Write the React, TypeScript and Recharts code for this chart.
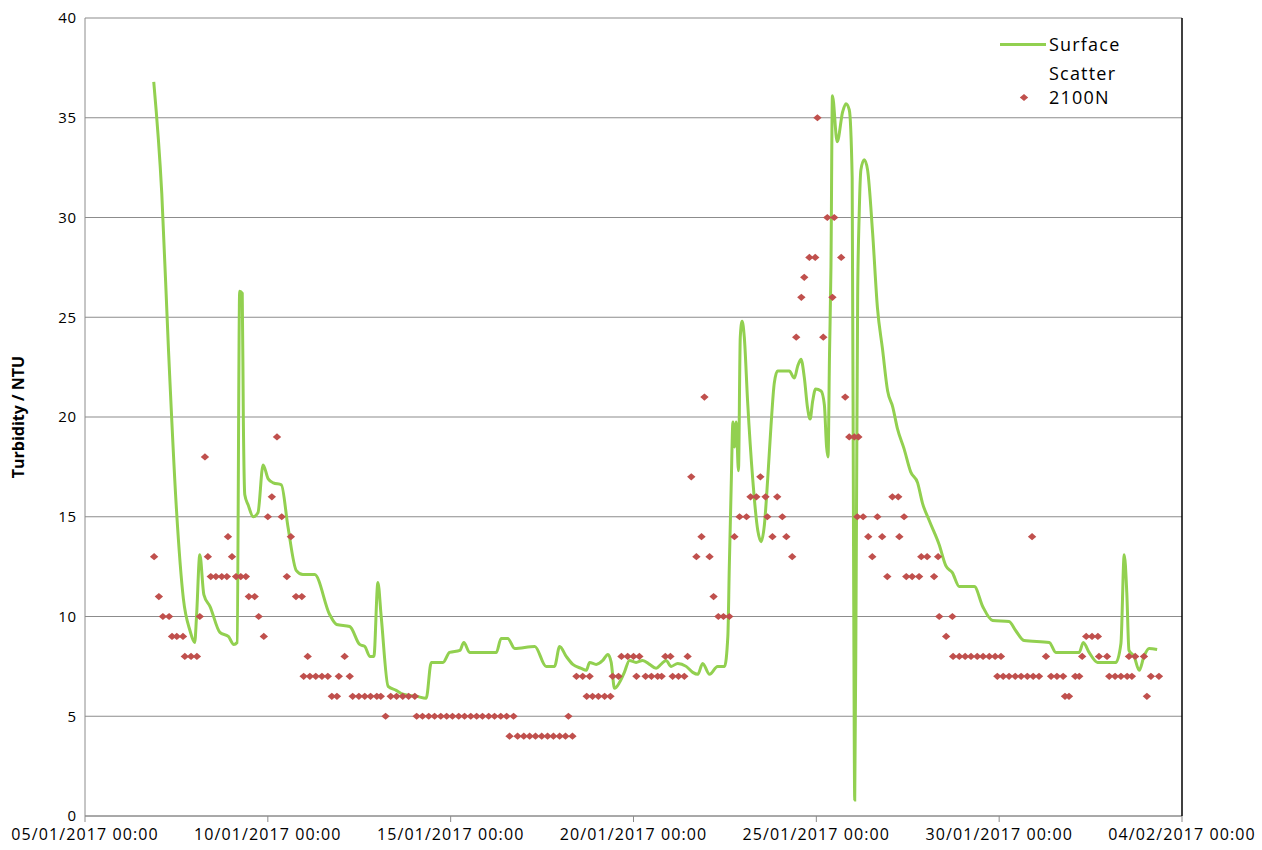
import React from 'react';
import { ComposedChart, Line, Scatter, XAxis, YAxis, CartesianGrid, Legend } from 'recharts';

// x values are days since 05/01/2017 00:00
const xTickDays = [0, 5, 10, 15, 20, 25, 30];
const xTickLabels = [
  '05/01/2017 00:00',
  '10/01/2017 00:00',
  '15/01/2017 00:00',
  '20/01/2017 00:00',
  '25/01/2017 00:00',
  '30/01/2017 00:00',
  '04/02/2017 00:00',
];
const yTicks = [0, 5, 10, 15, 20, 25, 30, 35, 40];

// Surface scatter turbidity (NTU), [day, value]
const surfacePoints: [number, number][] = [
  [1.88, 36.8], [2.1, 31.2], [2.28, 23.5], [2.5, 15.4], [2.69, 10.9], [2.87, 9.3], [3.0, 8.7],
  [3.05, 10.0], [3.14, 13.1], [3.25, 11.1], [3.42, 10.5], [3.69, 9.2], [3.92, 9.0], [4.07, 8.6],
  [4.16, 8.7], [4.23, 26.3], [4.3, 26.2], [4.33, 19.9], [4.37, 16.1], [4.46, 15.6], [4.6, 15.0],
  [4.73, 15.2], [4.87, 17.6], [5.01, 16.9], [5.15, 16.7], [5.37, 16.6], [5.55, 14.5], [5.78, 12.3],
  [5.96, 12.1], [6.28, 12.1], [6.69, 10.1], [6.88, 9.6], [7.24, 9.5], [7.51, 8.6], [7.65, 8.5],
  [7.79, 8.0], [7.9, 8.0], [8.01, 11.7], [8.1, 10.0], [8.29, 6.5], [8.51, 6.3], [8.7, 6.1],
  [9.06, 6.0], [9.33, 5.9], [9.47, 7.7], [9.79, 7.7], [9.97, 8.2], [10.25, 8.3], [10.36, 8.7],
  [10.52, 8.2], [11.25, 8.2], [11.38, 8.9], [11.56, 8.9], [11.75, 8.4], [12.3, 8.5], [12.61, 7.5],
  [12.84, 7.5], [12.98, 8.5], [13.16, 8.0], [13.34, 7.6], [13.57, 7.4], [13.71, 7.3], [13.8, 7.7],
  [13.98, 7.6], [14.16, 7.8], [14.3, 8.1], [14.39, 7.7], [14.48, 6.4], [14.62, 6.7], [14.75, 7.2],
  [14.89, 7.8], [15.07, 7.7], [15.25, 7.8], [15.44, 7.6], [15.62, 7.4], [15.75, 7.6], [15.89, 7.8],
  [16.03, 7.5], [16.21, 7.65], [16.44, 7.5], [16.62, 7.2], [16.76, 7.1], [16.89, 7.65], [17.08, 7.1],
  [17.3, 7.5], [17.49, 7.5], [17.58, 9.0], [17.62, 12.5], [17.67, 16.4], [17.72, 19.75], [17.76, 18.5],
  [17.81, 19.75], [17.87, 17.3], [17.92, 24.0], [17.97, 24.8], [18.03, 24.0], [18.12, 20.8],
  [18.26, 16.9], [18.4, 14.3], [18.49, 13.75], [18.58, 14.6], [18.67, 16.9], [18.76, 19.55],
  [18.85, 21.7], [18.94, 22.3], [19.26, 22.3], [19.4, 21.95], [19.49, 22.55], [19.58, 22.9],
  [19.67, 22.0], [19.76, 20.45], [19.83, 19.9], [19.9, 20.8], [19.98, 21.4], [20.13, 21.3],
  [20.22, 20.6], [20.28, 18.5], [20.32, 18.0], [20.36, 23.1], [20.4, 27.5], [20.44, 36.1],
  [20.57, 33.8], [20.72, 35.3], [20.81, 35.7], [20.9, 35.4], [20.98, 32.0], [21.02, 12.0],
  [21.05, 0.8], [21.09, 12.0], [21.13, 26.0], [21.17, 30.0], [21.22, 32.4], [21.31, 32.9],
  [21.4, 32.4], [21.54, 29.2], [21.67, 25.5], [21.81, 23.4], [21.95, 21.3], [22.09, 20.5],
  [22.22, 19.4], [22.4, 18.4], [22.58, 17.25], [22.77, 16.7], [22.9, 15.7], [23.09, 14.8],
  [23.36, 13.6], [23.54, 12.55], [23.72, 12.2], [23.91, 11.5], [24.32, 11.5], [24.55, 10.5],
  [24.82, 9.8], [25.27, 9.75], [25.45, 9.3], [25.68, 8.8], [26.37, 8.7], [26.55, 8.2], [27.19, 8.2],
  [27.3, 8.7], [27.46, 8.2], [27.69, 7.7], [28.19, 7.7], [28.33, 8.65], [28.42, 13.1], [28.49, 11.2],
  [28.55, 8.3], [28.69, 8.0], [28.83, 7.3], [28.96, 8.0], [29.1, 8.4], [29.32, 8.35],
];

// 2100N bench turbidimeter (NTU), [day, value]
const points2100N: [number, number][] = [
  [1.89, 13], [2.02, 11], [2.13, 10], [2.3, 10], [2.38, 9], [2.51, 9], [2.68, 9], [2.73, 8], [2.9, 8],
  [3.06, 8], [3.14, 10], [3.28, 18], [3.36, 13], [3.44, 12], [3.58, 12], [3.74, 12], [3.88, 12],
  [3.91, 14], [4.02, 13], [4.13, 12], [4.26, 12], [4.4, 12], [4.48, 11], [4.64, 11], [4.75, 10],
  [4.89, 9], [5.0, 15], [5.11, 16], [5.25, 19], [5.38, 15], [5.52, 12], [5.63, 14], [5.77, 11],
  [5.93, 11], [6.09, 8], [5.98, 7], [6.15, 7], [6.31, 7], [6.48, 7], [6.64, 7], [6.75, 6], [6.89, 6],
  [6.94, 7], [7.1, 8], [7.24, 7], [7.32, 6], [7.49, 6], [7.65, 6], [7.81, 6], [7.98, 6], [8.09, 6],
  [8.22, 5], [8.36, 6], [8.52, 6], [8.69, 6], [8.85, 6], [9.02, 6], [9.07, 5], [9.23, 5], [9.4, 5],
  [9.56, 5], [9.73, 5], [9.89, 5], [10.05, 5], [10.22, 5], [10.38, 5], [10.55, 5], [10.71, 5],
  [10.87, 5], [11.04, 5], [11.2, 5], [11.37, 5], [11.53, 5], [11.72, 5], [11.61, 4], [11.83, 4],
  [12.0, 4], [12.16, 4], [12.32, 4], [12.49, 4], [12.65, 4], [12.81, 4], [12.98, 4], [13.14, 4],
  [13.33, 4], [13.22, 5], [13.44, 7], [13.61, 7], [13.8, 7], [13.72, 6], [13.88, 6], [14.04, 6],
  [14.21, 6], [14.37, 6], [14.43, 7], [14.59, 7], [14.67, 8], [14.84, 8], [15.0, 8], [15.16, 8],
  [15.08, 7], [15.33, 7], [15.49, 7], [15.66, 7], [15.77, 7], [15.87, 8], [16.01, 8], [16.07, 7],
  [16.23, 7], [16.39, 7], [16.48, 8], [16.58, 17], [16.72, 13], [16.86, 14], [16.94, 21], [17.08, 13],
  [17.19, 11], [17.32, 10], [17.46, 10], [17.62, 10], [17.76, 14], [17.9, 15], [18.09, 15], [18.2, 16],
  [18.36, 16], [18.47, 17], [18.61, 16], [18.66, 15], [18.8, 14], [18.93, 16], [19.07, 15], [19.18, 14],
  [19.34, 13], [19.45, 24], [19.59, 26], [19.67, 27], [19.81, 28], [19.97, 28], [20.03, 35], [20.19, 24],
  [20.3, 30], [20.49, 30], [20.44, 26], [20.68, 28], [20.79, 21], [20.9, 19], [21.04, 19], [21.15, 19],
  [21.12, 15], [21.28, 15], [21.67, 15], [22.4, 15], [21.42, 14], [21.8, 14], [22.27, 14], [21.53, 13],
  [21.94, 12], [22.08, 16], [22.24, 16], [22.46, 12], [22.62, 12], [22.81, 12], [22.87, 13], [23.03, 13],
  [23.33, 13], [23.22, 12], [23.36, 10], [23.72, 10], [23.55, 9], [23.74, 8], [23.91, 8], [24.07, 8],
  [24.23, 8], [24.4, 8], [24.56, 8], [24.73, 8], [24.89, 8], [25.05, 8], [24.95, 7], [25.11, 7],
  [25.27, 7], [25.44, 7], [25.6, 7], [25.77, 7], [25.93, 7], [26.09, 7], [26.42, 7], [26.58, 7],
  [26.75, 7], [27.08, 7], [27.19, 7], [26.28, 8], [25.9, 14], [26.8, 6], [26.91, 6], [27.27, 8],
  [27.38, 9], [27.54, 9], [27.7, 9], [27.73, 8], [27.95, 8], [28.01, 7], [28.17, 7], [28.33, 7],
  [28.5, 7], [28.63, 7], [28.55, 8], [28.72, 8], [28.96, 8], [29.04, 6], [29.15, 7], [29.37, 7],
];

const GREEN = '#92D050';
const RED = '#C0504D';
const GRID = '#8c8c8c';
const FONT = '"Open Sans", sans-serif';

const surfaceData = surfacePoints.map(([day, ntu]) => ({ day, ntu }));
const data2100N = points2100N.map(([day, ntu]) => ({ day, ntu }));

const Diamond = (props: any) => {
  const { cx, cy } = props;
  if (cx == null || cy == null) return null;
  return <path d={`M${cx},${cy - 3.6}L${cx + 4.2},${cy}L${cx},${cy + 3.6}L${cx - 4.2},${cy}Z`} fill={RED} />;
};

const YTitle = (props: any) => {
  const vb = props.viewBox || { x: 0, y: 0, height: 0 };
  const x = vb.x + 18;
  const y = vb.y + vb.height / 2;
  return (
    <text x={x} y={y} transform={`rotate(-90 ${x} ${y})`} textAnchor="middle" dominantBaseline="central"
      fontFamily={FONT} fontSize={16} fontWeight="bold" fill="#000">
      Turbidity / NTU
    </text>
  );
};

const LegendBox = () => (
  <div style={{ fontFamily: FONT, fontSize: 18, color: '#000', letterSpacing: 1.2 }}>
    <div style={{ display: 'flex', alignItems: 'center', height: 28 }}>
      <span style={{ display: 'inline-block', width: 46, height: 3, background: GREEN, marginRight: 3 }} />
      <span>Surface</span>
    </div>
    <div style={{ display: 'flex', alignItems: 'flex-end', lineHeight: '24px', marginTop: 3 }}>
      <span style={{ display: 'inline-block', width: 49, height: 24, position: 'relative' }}>
        <svg width={49} height={24} style={{ position: 'absolute', left: 0, top: 0 }}>
          <path d="M24,8.9L28.2,12.5L24,16.1L19.8,12.5Z" fill={RED} />
        </svg>
      </span>
      <span>Scatter<br />2100N</span>
    </div>
  </div>
);

export default function App() {
  return (
    <div style={{ position: 'absolute', left: 0, top: 0, width: 1262, height: 850, background: '#fff' }}>
      <ComposedChart width={1262} height={850} margin={{ top: 18, right: 0, bottom: 0, left: 0 }}>
        <CartesianGrid vertical={false} stroke={GRID} strokeWidth={1.2} />
        <XAxis
          type="number"
          dataKey="day"
          domain={[0, 30]}
          ticks={xTickDays}
          interval={0}
          allowDataOverflow
          height={34}
          stroke={GRID}
          tickMargin={7}
          tickFormatter={(v: number) => xTickLabels[xTickDays.indexOf(v)]}
          tick={{ fill: '#000', fontSize: 16, fontFamily: FONT, letterSpacing: 1.1 }}
        />
        <YAxis
          type="number"
          domain={[0, 40]}
          ticks={yTicks}
          interval={0}
          width={85}
          stroke={GRID}
          tickLine={false}
          tick={{ fill: '#000', fontSize: 15, fontFamily: FONT, letterSpacing: 0.8 }}
          label={<YTitle />}
        />
        <YAxis
          yAxisId="r"
          orientation="right"
          type="number"
          domain={[0, 40]}
          width={80}
          tick={false}
          tickLine={false}
          axisLine={{ stroke: '#000', strokeWidth: 1.5 }}
        />
        <Line
          data={surfaceData}
          dataKey="ntu"
          type="monotone"
          stroke={GREEN}
          strokeWidth={3}
          dot={false}
          isAnimationActive={false}
          name="Surface"
        />
        <Scatter
          data={data2100N}
          dataKey="ntu"
          fill={RED}
          shape={<Diamond />}
          isAnimationActive={false}
          name="Scatter 2100N"
        />
        <Legend
          layout="vertical"
          align="center"
          verticalAlign="middle"
          wrapperStyle={{ left: 1000, top: 30, width: 170 }}
          content={<LegendBox />}
        />
      </ComposedChart>
    </div>
  );
}
